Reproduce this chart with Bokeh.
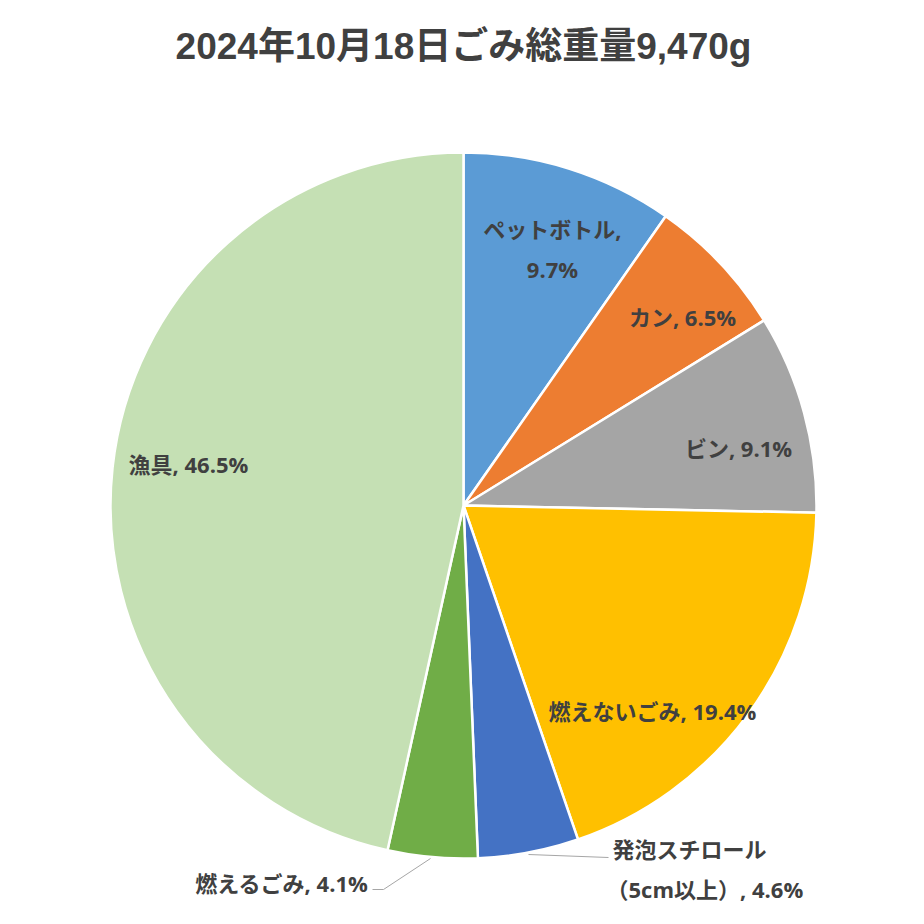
import math
from bokeh.plotting import figure
from bokeh.models import ColumnDataSource, Range1d
from bokeh.core.properties import value
from bokeh.embed import file_html
from bokeh.resources import INLINE

# ---- data ----
title_text = "2024年10月18日ごみ総重量9,470g"
categories = ["ペットボトル", "カン", "ビン", "燃えないごみ", "発泡スチロール（5cm以上）", "燃えるごみ", "漁具"]
percents = [9.7, 6.5, 9.1, 19.4, 4.6, 4.1, 46.5]
colors = ["#5B9BD5", "#ED7D31", "#A5A5A5", "#FFC000", "#4472C4", "#70AD47", "#C5E0B4"]

W = H = 924
LFONT = "Open Sans, Noto Sans CJK JP"
TFONT = "Liberation Sans, Noto Sans CJK JP"
TXT = "#404040"

def Y(ypx):
    return H - ypx

cx, cy, R = 463, Y(505), 353

total = sum(percents)
starts, ends = [], []
acc = 0.0
for v in percents:
    starts.append(math.pi / 2 - acc / total * 2 * math.pi)
    acc += v
    ends.append(math.pi / 2 - acc / total * 2 * math.pi)

p = figure(width=W, height=H, output_backend="svg", toolbar_location=None,
           x_range=Range1d(0, W), y_range=Range1d(0, H), min_border=0)
p.axis.visible = False
p.grid.visible = False
p.outline_line_color = None
p.background_fill_color = "white"
p.border_fill_color = "white"

src = ColumnDataSource(dict(start=starts, end=ends, color=colors,
                            x=[cx] * len(percents), y=[cy] * len(percents)))
p.wedge(x="x", y="y", radius=R, start_angle="start", end_angle="end",
        direction="clock", fill_color="color", line_color="white", line_width=2.5,
        source=src)

# title
p.text(x=[463], y=[Y(46)], text=[title_text], text_font=value(TFONT),
       text_font_style="bold", text_font_size="37px", text_color=TXT,
       text_align="center", text_baseline="middle")

def lab(i):
    return f"{percents[i]}%"

# labels (layout positions)
labels = [
    (552, 228, "ペットボトル,", "center"),
    (552, 268, lab(0), "center"),
    (682, 316, f"{categories[1]}, {lab(1)}", "center"),
    (738, 447, f"{categories[2]}, {lab(2)}", "center"),
    (128, 463, f"{categories[6]}, {lab(6)}", "left"),
    (548, 710, f"{categories[3]}, {lab(3)}", "left"),
    (368, 882, f"{categories[5]}, {lab(5)}", "right"),
    (612, 848, "発泡スチロール", "left"),
    (606, 888, f"（5cm以上）, {lab(4)}", "left"),
]
for x, y, t, al in labels:
    p.text(x=[x], y=[Y(y)], text=[t], text_font=value(LFONT), text_font_style="bold",
           text_font_size="22px", text_color=TXT, text_align=al, text_baseline="middle")

# leader lines
p.line(x=[372, 383, 430], y=[Y(889), Y(889), Y(858)], line_color="#A6A6A6", line_width=1)
p.line(x=[528, 608], y=[Y(854), Y(857)], line_color="#A6A6A6", line_width=1)

open("out.html", "w").write(file_html(p, INLINE))
